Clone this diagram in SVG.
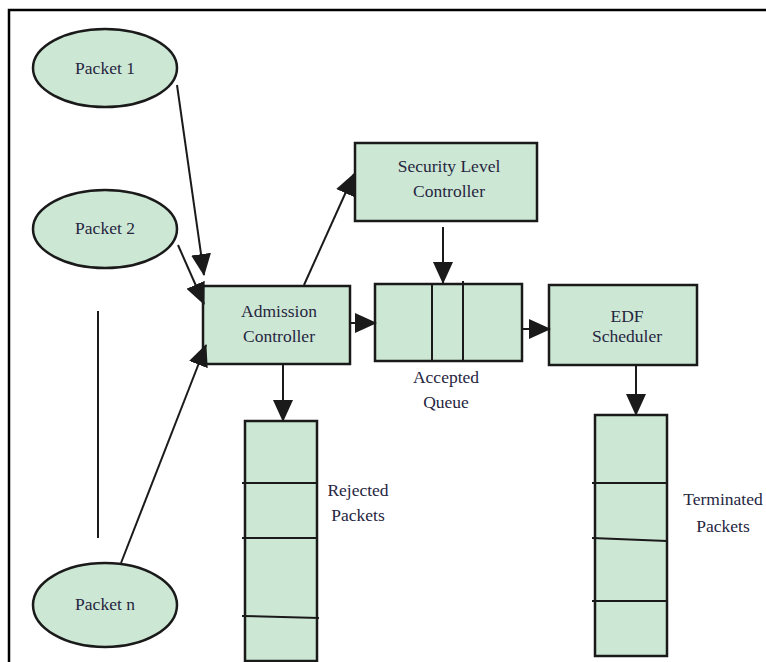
<svg xmlns="http://www.w3.org/2000/svg" width="766" height="662" viewBox="0 0 766 662">
<defs>
<style>
.n{fill:#cde7d5;stroke:#1a1a1a;stroke-width:2.5}
.t{font-family:"Liberation Serif","Times New Roman","DejaVu Serif",serif;font-size:17.5px;fill:#26263f;text-anchor:middle}
.c{stroke:#1a1a1a;stroke-width:2;fill:none}
.d{stroke:#1a1a1a;stroke-width:2;fill:none}
</style>
<marker id="ah" markerUnits="userSpaceOnUse" markerWidth="22" markerHeight="20" refX="21" refY="10" orient="auto" viewBox="0 0 22 20">
<path d="M0,0 L22,10 L0,20 z" fill="#1a1a1a"/>
</marker>
</defs>
<rect width="766" height="662" fill="#fff"/>
<path d="M9,662 V10 H766" fill="none" stroke="#000" stroke-width="2.5"/>

<g id="packet1"><ellipse class="n" cx="105" cy="68" rx="72" ry="39"/><text class="t" x="105" y="74">Packet 1</text></g>
<g id="packet2"><ellipse class="n" cx="105" cy="229" rx="72" ry="39"/><text class="t" x="105" y="234">Packet 2</text></g>
<g id="packetn"><ellipse class="n" cx="105" cy="605" rx="72" ry="42"/><text class="t" x="105" y="610">Packet n</text></g>
<line x1="98" y1="311" x2="98" y2="538" stroke="#1a1a1a" stroke-width="2"/>

<g id="admission"><rect class="n" x="203" y="286" width="147" height="78"/><text class="t" x="279" y="317">Admission</text><text class="t" x="279" y="342">Controller</text></g>
<g id="security"><rect class="n" x="355" y="143" width="182" height="78"/><text class="t" x="449" y="172">Security Level</text><text class="t" x="449" y="197">Controller</text></g>
<g id="queue"><rect class="n" x="375" y="284" width="147" height="77"/><line class="d" x1="432" y1="284" x2="432" y2="361"/><line class="d" x1="463" y1="281" x2="463" y2="361"/><text class="t" x="446" y="383">Accepted</text><text class="t" x="446" y="408">Queue</text></g>
<g id="edf"><rect class="n" x="549" y="285" width="148" height="80"/><text class="t" x="627" y="322">EDF</text><text class="t" x="627" y="342">Scheduler</text></g>
<g id="rejected"><rect class="n" x="245" y="421" width="72" height="240"/><line class="d" x1="242" y1="483" x2="317" y2="483"/><line class="d" x1="242" y1="538" x2="317" y2="538"/><line class="d" x1="242" y1="616" x2="319" y2="618"/><text class="t" x="358" y="496">Rejected</text><text class="t" x="358" y="521">Packets</text></g>
<g id="terminated"><rect class="n" x="595" y="415" width="72" height="241"/><line class="d" x1="592" y1="483" x2="667" y2="483"/><line class="d" x1="592" y1="538" x2="667" y2="541"/><line class="d" x1="592" y1="601" x2="667" y2="601"/><text class="t" x="723" y="505">Terminated</text><text class="t" x="723" y="532">Packets</text></g>

<g id="connectors">
<line class="c" x1="177" y1="85" x2="204" y2="275" marker-end="url(#ah)"/>
<line class="c" x1="178" y1="245" x2="204" y2="304" marker-end="url(#ah)"/>
<line class="c" x1="121" y1="563" x2="206" y2="345" marker-end="url(#ah)"/>
<line class="c" x1="304" y1="285" x2="354" y2="174" marker-end="url(#ah)"/>
<line class="c" x1="350" y1="323" x2="376" y2="323" marker-end="url(#ah)"/>
<line class="c" x1="443" y1="227" x2="443" y2="283" marker-end="url(#ah)"/>
<line class="c" x1="522" y1="329" x2="550" y2="329" marker-end="url(#ah)"/>
<line class="c" x1="283" y1="364" x2="283" y2="421" marker-end="url(#ah)"/>
<line class="c" x1="636" y1="365" x2="636" y2="415" marker-end="url(#ah)"/>
</g>
</svg>
